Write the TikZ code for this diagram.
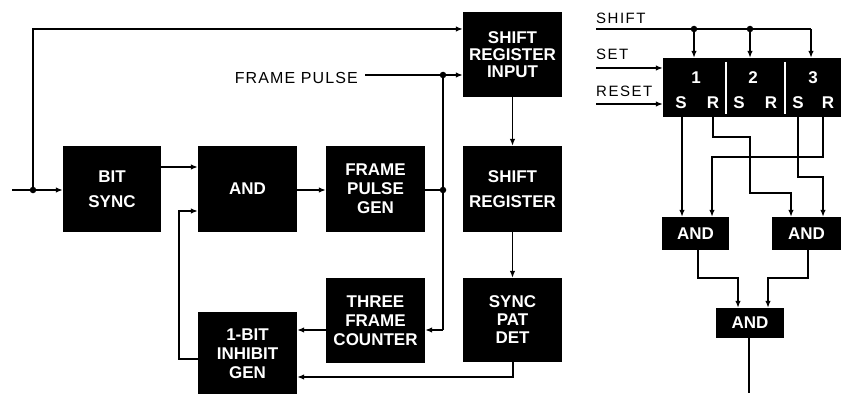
\documentclass[tikz,border=0pt]{standalone}
\usepackage{fontspec}
\setmainfont{Liberation Sans}
\usetikzlibrary{arrows.meta}
\begin{document}
\begin{tikzpicture}[x=1pt,y=-1pt,
  blk/.style={fill=black,text=white,inner sep=0pt,align=center,font=\fontsize{17}{19}\selectfont\bfseries},
  wire/.style={line width=1.3pt},
  arr/.style={wire,-{Latex[length=7pt,width=5.5pt]}},
  dot/.style={circle,fill=black,inner sep=0pt,minimum size=6.5pt},
  lbl/.style={inner sep=0pt,font=\fontsize{16}{19}\selectfont\addfontfeature{LetterSpace=7}},
  lblr/.style={inner sep=0pt,font=\fontsize{15}{17}\selectfont\addfontfeature{LetterSpace=10}},
  cell/.style={text=white,inner sep=0pt,font=\fontsize{17}{19}\selectfont\bfseries}]
\useasboundingbox (0,0) rectangle (842,393);
% ---------- left diagram: boxes ----------
\node[blk,minimum width=98pt,minimum height=86pt] (bitsync) at (112,189) {BIT\\[6pt]SYNC};
\node[blk,minimum width=99pt,minimum height=86pt] (and) at (247.5,189) {AND};
\node[blk,minimum width=99pt,minimum height=86pt] (fpg) at (375.5,189) {FRAME\\PULSE\\GEN};
\node[blk,minimum width=99pt,minimum height=85pt,font=\fontsize{17}{17}\selectfont\bfseries] (sri) at (512.5,54.5) {SHIFT\\REGISTER\\INPUT};
\node[blk,minimum width=99pt,minimum height=86pt] (sr) at (512.5,189) {SHIFT\\[6pt]REGISTER};
\node[blk,minimum width=99pt,minimum height=84pt,font=\fontsize{17}{18}\selectfont\bfseries] (spd) at (512.5,320) {SYNC\\PAT\\DET};
\node[blk,minimum width=99pt,minimum height=85pt] (tfc) at (375.5,320.5) {THREE\\FRAME\\COUNTER};
\node[blk,minimum width=99pt,minimum height=83pt] (ibg) at (247.5,353.5) {1-BIT\\INHIBIT\\GEN};
% ---------- left diagram: connectors ----------
\coordinate (in) at (12,190);
\node[dot] (d0) at (33,190) {};
\coordinate (tl) at (33,29);
\draw[wire] (in) -- (d0);
\draw[arr] (d0) -- (bitsync.west |- d0);
\draw[arr] (d0) -- (tl) -- (sri.west |- tl);
\coordinate (y167) at (0,167);
\draw[arr] (bitsync.east |- y167) -- (and.west |- y167);
\coordinate (y190) at (0,190);
\draw[arr] (and.east |- y190) -- (fpg.west |- y190);
\coordinate (fb) at (179,359);
\coordinate (fb2) at (179,211);
\draw[arr] (ibg.west |- fb) -- (fb) -- (fb2) -- (and.west |- fb2);
\node[lbl,anchor=east] (fplbl) at (358,78) {FRAME PULSE};
\coordinate (fpl) at (365,75);
\node[dot] (d2) at (443,75) {};
\node[dot] (d1) at (443,190) {};
\draw[wire] (fpl) -- (d2);
\draw[arr] (d2) -- (sri.west |- d2);
\draw[wire] (fpg.east |- d1) -- (d1);
\coordinate (c330) at (443,330);
\draw[wire] (d2) -- (c330);
\draw[arr] (c330) -- (tfc.east |- c330);
\draw[arr] (tfc.west |- c330) -- (ibg.east |- c330);
\coordinate (c377) at (513,377);
\draw[arr] (spd.south -| c377) -- (c377) -- (ibg.east |- c377);
\draw[arr] (sri.south) -- (sr.north);
\draw[arr] (sr.south) -- (spd.north);
% ---------- right diagram ----------
\node[blk,minimum width=178pt,minimum height=59pt] (reg) at (752,87.5) {};
\draw[white,line width=1.5pt] (726,62) -- (726,114);
\draw[white,line width=1.5pt] (785,62) -- (785,114);
\node[cell] (n1) at (696,77.5) {1};
\node[cell] (n2) at (753,77.5) {2};
\node[cell] (n3) at (813,77.5) {3};
\node[cell] (s1l) at (681,102.5) {S};
\node[cell] (r1l) at (713,102.5) {R};
\node[cell] (s2l) at (739,102.5) {S};
\node[cell] (r2l) at (771,102.5) {R};
\node[cell] (s3l) at (798,102.5) {S};
\node[cell] (r3l) at (828,102.5) {R};
\node[lblr,anchor=base west] (shiftl) at (596,24) {SHIFT};
\node[lblr,anchor=base west] (setl) at (596,60) {SET};
\node[lblr,anchor=base west] (resetl) at (596,97) {RESET};
\coordinate (sh0) at (596,29);
\node[dot] (s1) at (694,29) {};
\node[dot] (s2) at (750,29) {};
\coordinate (s3) at (811,29);
\draw[wire] (sh0) -- (s3);
\draw[arr] (s1) -- (reg.north -| s1);
\draw[arr] (s2) -- (reg.north -| s2);
\draw[arr] (s3) -- (reg.north -| s3);
\coordinate (st0) at (596,68);
\coordinate (rs0) at (596,104);
\draw[arr] (st0) -- (reg.west |- st0);
\draw[arr] (rs0) -- (reg.west |- rs0);
% AND gates
\node[blk,minimum width=67pt,minimum height=33pt] (and1) at (695.5,233.5) {AND};
\node[blk,minimum width=69pt,minimum height=33pt] (and2) at (806.5,233.5) {AND};
\node[blk,minimum width=68pt,minimum height=30pt] (and3) at (750,323) {AND};
\coordinate (xs1) at (682,0);
\coordinate (xr1) at (713,0);
\coordinate (xs3) at (798,0);
\coordinate (xr3) at (823,0);
\coordinate (xa1) at (712,0);
\coordinate (xa2) at (791,0);
\draw[arr] (reg.south -| xs1) -- (and1.north -| xs1);
\draw[arr] (reg.south -| xr1) -- (713,137) -- (750,137) -- (750,193) -- (791,193) -- (and2.north -| xa2);
\draw[arr] (reg.south -| xr3) -- (823,157) -- (712,157) -- (and1.north -| xa1);
\draw[arr] (reg.south -| xs3) -- (798,177) -- (823,177) -- (and2.north -| xr3);
\coordinate (xo1) at (698,0);
\coordinate (xo2) at (808,0);
\coordinate (xi1) at (738,0);
\coordinate (xi2) at (768,0);
\draw[arr] (and1.south -| xo1) -- (698,278) -- (738,278) -- (and3.north -| xi1);
\draw[arr] (and2.south -| xo2) -- (808,278) -- (768,278) -- (and3.north -| xi2);
\coordinate (out) at (749,393);
\draw[wire] (and3.south -| out) -- (out);
\end{tikzpicture}
\end{document}
